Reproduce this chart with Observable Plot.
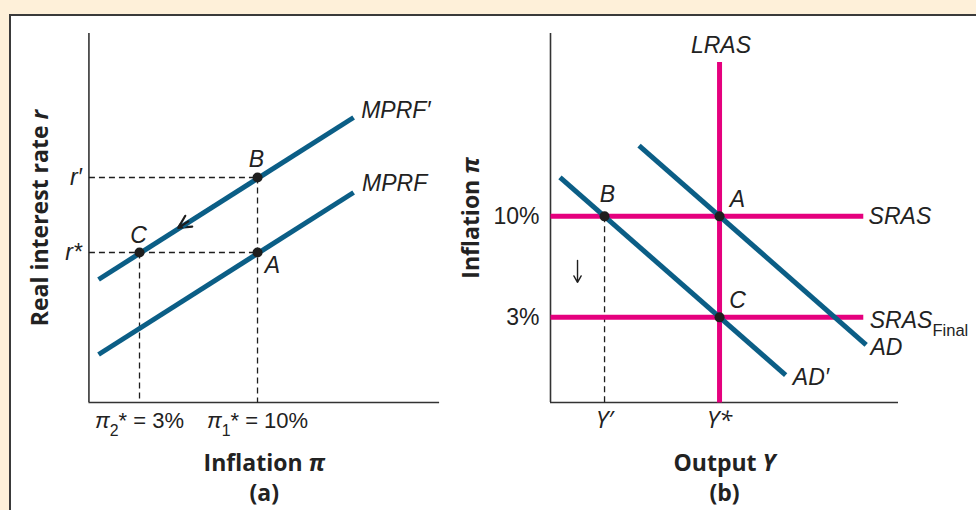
<!DOCTYPE html>
<html><head><meta charset="utf-8">
<script src="https://cdn.jsdelivr.net/npm/d3@7"></script>
<script src="https://cdn.jsdelivr.net/npm/@observablehq/plot@0.6"></script>
<style>
html,body{margin:0;padding:0;}
body{background:#fef0d9;width:976px;height:510px;overflow:hidden;position:relative;}
#box{position:absolute;left:9px;top:14px;width:1000px;height:600px;background:#fff;border-left:2px solid #3a3a3a;border-top:2px solid #3a3a3a;}
#a{position:absolute;left:0;top:0;}
#b{position:absolute;left:460px;top:0;}
</style></head>
<body><div id="box"></div><div id="a"></div><div id="b"></div>
<script>
// ---------- Panel (a): MPRF ----------
const mprfInflation = [0.57, 15.7];      // π at the two ends of both MPRF lines
const mprfRate = [1.6, 7.0];             // r on MPRF
const mprfPrimeRate = [4.1, 9.5];        // r on MPRF'
const rStar = 5, rPrime = 7.5;           // r*, r'
const pi1 = 10, pi2 = 3;                 // π1*, π2*
const ticksA = ["~{π}_{2}* = 3%", "~{π}_{1}* = 10%"];
const rTickLabels = ["r*", "r′"];

// ---------- Panel (b): AD / AS ----------
const adOutput = [94.4, 110.2], adInflation = [14.9, 1.1];
const adPrimeOutput = [88.9, 104.6], adPrimeInflation = [12.7, -1.0];
const yStar = 100, yPrime = 92;
const piHigh = 10, piLow = 3;
const srasOutput = [88.24, 110.0];
const lrasInflation = [-2.9, 20.7];
const ticksBx = ["Y′", "Y*"];
const ticksBy = ["10%", "3%"];

const blue = "#0b5e86", pink = "#e5007e", ink = "#1e1e1e", axisCol = "#333";
const fLab = "Liberation Sans, Arimo, Arial, sans-serif";
const fTitle = "Open Sans, Lato, sans-serif";
const svgStyle = "background:transparent;overflow:visible;";

function rich(svg){
  const NS = "http://www.w3.org/2000/svg";
  svg.querySelectorAll("text").forEach(t => {
    const s = t.textContent;
    if (!/[_~]\{/.test(s)) return;
    t.textContent = "";
    let pending = 0;
    for (const p of s.split(/(_\{[^}]*\}|~\{[^}]*\})/g)) {
      if (!p) continue;
      const ts = document.createElementNS(NS, "tspan");
      if (p.startsWith("_{")) {
        ts.textContent = p.slice(2, -1);
        ts.setAttribute("font-size", "72%");
        ts.setAttribute("font-style", "normal");
        ts.setAttribute("dy", 8 + pending); pending = -8;
      } else if (p.startsWith("~{")) {
        ts.textContent = p.slice(2, -1);
        ts.setAttribute("font-style", "italic");
        if (pending) { ts.setAttribute("dy", pending); pending = 0; }
      } else {
        ts.textContent = p;
        if (pending) { ts.setAttribute("dy", pending); pending = 0; }
      }
      t.appendChild(ts);
    }
  });
  return svg;
}

const labStyle = {fontSize: 23, fontStyle: "italic", fontFamily: fLab, fill: "#222"};
const titleStyle = {fontSize: 23, fontWeight: "bold", fontFamily: fTitle, fill: "#222", lineAnchor: "middle", textAnchor: "middle"};

// ----- Panel (a) -----
const mprf = mprfInflation.map((p, i) => ({pi: p, r: mprfRate[i]}));
const mprfP = mprfInflation.map((p, i) => ({pi: p, r: mprfPrimeRate[i]}));
const ptsA = [{pi: pi1, r: rStar}, {pi: pi1, r: rPrime}, {pi: pi2, r: rStar}];
const dashA = [
  {x1: 0, y1: rPrime, x2: pi1, y2: rPrime},
  {x1: 0, y1: rStar, x2: pi1, y2: rStar},
  {x1: pi2, y1: rStar, x2: pi2, y2: 0},
  {x1: pi1, y1: rPrime, x2: pi1, y2: 0}
];
const curveLabA = [
  {t: "MPRF′", x: 16.15, y: 9.73},
  {t: "MPRF", x: 16.2, y: 7.3}
];
const pointLabA = [
  {t: "B", x: 9.94, y: 8.08},
  {t: "C", x: 2.95, y: 5.57},
  {t: "A", x: 10.89, y: 4.57}
];
const arrowLong = [{x1: 7.4, y1: 6.57, x2: 5.3, y2: 5.82}];
const arrowTip = [{x1: 5.9, y1: 6.04, x2: 5.3, y2: 5.82}];
const plotA = Plot.plot({
  width: 470, height: 510,
  marginLeft: 88.43, marginRight: 470 - 439.1, marginTop: 33, marginBottom: 108,
  x: {domain: [0, 20.8], axis: null},
  y: {domain: [0, 12.3], axis: null},
  style: svgStyle,
  marks: [
    Plot.ruleX([0], {stroke: axisCol, strokeWidth: 1.6}),
    Plot.ruleY([0], {stroke: axisCol, strokeWidth: 1.6}),
    Plot.link(dashA, {x1: "x1", y1: "y1", x2: "x2", y2: "y2", stroke: ink, strokeWidth: 1.3, strokeDasharray: "6,4"}),
    Plot.arrow(arrowLong, {x1: "x1", y1: "y1", x2: "x2", y2: "y2", stroke: ink, strokeWidth: 2.2, headLength: 14, headAngle: 55}),
    Plot.line(mprf, {x: "pi", y: "r", stroke: blue, strokeWidth: 5, strokeLinecap: "butt"}),
    Plot.line(mprfP, {x: "pi", y: "r", stroke: blue, strokeWidth: 5, strokeLinecap: "butt"}),
    Plot.arrow(arrowTip, {x1: "x1", y1: "y1", x2: "x2", y2: "y2", stroke: ink, strokeWidth: 2.2, headLength: 14, headAngle: 55}),
    Plot.dot(ptsA, {x: "pi", y: "r", r: 5, fill: ink}),
    Plot.text(curveLabA, {x: "x", y: "y", text: "t", textAnchor: "start", ...labStyle}),
    Plot.text(pointLabA, {x: "x", y: "y", text: "t", textAnchor: "middle", ...labStyle}),
    Plot.text([pi2, pi1], {x: d => d, text: (d, i) => ticksA[i], frameAnchor: "bottom", lineAnchor: "middle", dy: 18, fontSize: 22, fontFamily: fLab, fill: "#222"}),
    Plot.text([rStar, rPrime], {y: d => d, text: (d, i) => rTickLabels[i], frameAnchor: "left", dx: -7, textAnchor: "end", ...labStyle}),
    Plot.text(["Inflation ~{π}"], {text: d => d, frameAnchor: "bottom", dy: 61, ...titleStyle}),
    Plot.text(["(a)"], {text: d => d, frameAnchor: "bottom", dy: 91, ...titleStyle}),
    Plot.text(["Real interest rate ~{r}"], {text: d => d, frameAnchor: "left", rotate: -90, dx: -48.4, ...titleStyle})
  ]
});
document.getElementById("a").appendChild(rich(plotA));

// ----- Panel (b) -----
const ad = adOutput.map((y, i) => ({y, pi: adInflation[i]}));
const adP = adPrimeOutput.map((y, i) => ({y, pi: adPrimeInflation[i]}));
const sras = [piHigh, piLow].map(p => srasOutput.map(y => ({y, pi: p, k: p}))).flat();
const lras = lrasInflation.map(p => ({y: yStar, pi: p}));
const ptsB = [{y: yPrime, pi: piHigh}, {y: yStar, pi: piHigh}, {y: yStar, pi: piLow}];
const curveLabB = [
  {t: "SRAS", x: 110.37, y: 10},
  {t: "SRAS_{Final}", x: 110.45, y: 2.8},
  {t: "AD", x: 110.5, y: 0.92},
  {t: "AD′", x: 105.1, y: -1.2}
];
const pointLabB = [
  {t: "LRAS", x: 100.1, y: 21.85},
  {t: "B", x: 92.2, y: 11.5},
  {t: "A", x: 101.25, y: 11.14},
  {t: "C", x: 101.25, y: 4.18}
];
const plotB = Plot.plot({
  width: 516, height: 510,
  marginLeft: 90, marginRight: 78, marginTop: 33, marginBottom: 108,
  x: {domain: [88.24, 112.45], axis: null},
  y: {domain: [-2.9, 22.67], axis: null},
  style: svgStyle,
  marks: [
    Plot.ruleX([88.24], {stroke: axisCol, strokeWidth: 1.6}),
    Plot.ruleY([-2.9], {stroke: axisCol, strokeWidth: 1.6}),
    Plot.link([{x1: yPrime, y1: piHigh, x2: yPrime, y2: -2.9}], {x1: "x1", y1: "y1", x2: "x2", y2: "y2", stroke: ink, strokeWidth: 1.3, strokeDasharray: "6,4"}),
    Plot.line(sras, {x: "y", y: "pi", z: "k", stroke: pink, strokeWidth: 5, strokeLinecap: "butt"}),
    Plot.line(lras, {x: "y", y: "pi", stroke: pink, strokeWidth: 5, strokeLinecap: "butt"}),
    Plot.line(ad, {x: "y", y: "pi", stroke: blue, strokeWidth: 5, strokeLinecap: "butt"}),
    Plot.line(adP, {x: "y", y: "pi", stroke: blue, strokeWidth: 5, strokeLinecap: "butt"}),
    Plot.arrow([{x1: 90.12, y1: 6.95, x2: 90.12, y2: 5.43}], {x1: "x1", y1: "y1", x2: "x2", y2: "y2", stroke: ink, strokeWidth: 1.4, headLength: 11}),
    Plot.dot(ptsB, {x: "y", y: "pi", r: 5, fill: ink}),
    Plot.text(curveLabB, {x: "x", y: "y", text: "t", textAnchor: "start", ...labStyle}),
    Plot.text(pointLabB, {x: "x", y: "y", text: "t", textAnchor: "middle", ...labStyle}),
    Plot.text([yPrime, yStar], {x: d => d, text: (d, i) => ticksBx[i], frameAnchor: "bottom", lineAnchor: "middle", dy: 18, fontSize: 24, fontStyle: "italic", fontFamily: fTitle, fill: "#222"}),
    Plot.text([piHigh, piLow], {y: d => d, text: (d, i) => ticksBy[i], frameAnchor: "left", dx: -11, textAnchor: "end", fontSize: 23, fontFamily: fLab, fill: "#222"}),
    Plot.text(["Output ~{Y}"], {text: d => d, frameAnchor: "bottom", dy: 61, ...titleStyle}),
    Plot.text(["(b)"], {text: d => d, frameAnchor: "bottom", dy: 91, ...titleStyle}),
    Plot.text(["Inflation ~{π}"], {text: d => d, frameAnchor: "left", rotate: -90, dx: -79, ...titleStyle})
  ]
});
document.getElementById("b").appendChild(rich(plotB));
</script>
</body></html>
